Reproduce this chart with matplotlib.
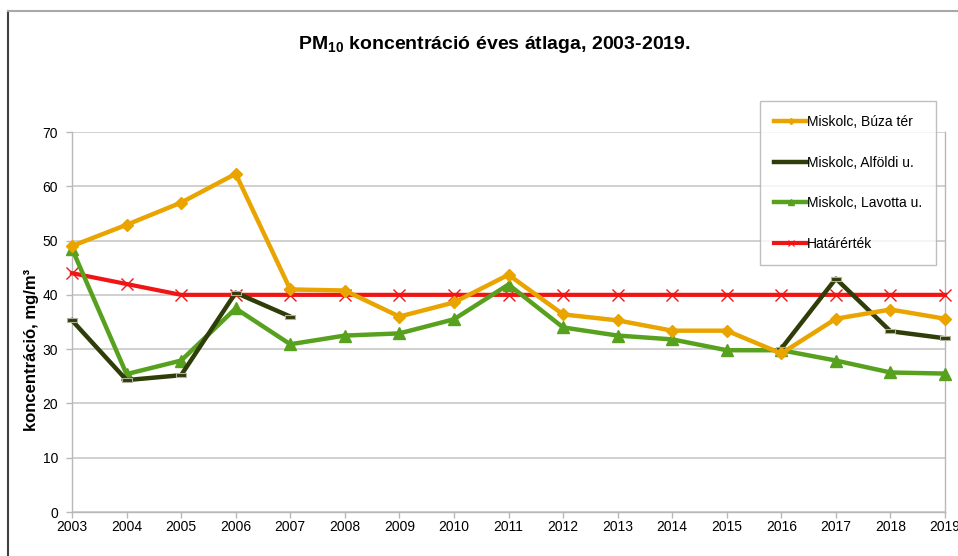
import numpy as np
import matplotlib
matplotlib.use("Agg")
import matplotlib.pyplot as plt
from matplotlib.lines import Line2D
from matplotlib.path import Path

plt.rcParams['font.family'] = ['Liberation Sans', 'DejaVu Sans']
plt.rcParams['mathtext.fontset'] = 'custom'
plt.rcParams['mathtext.rm'] = 'Liberation Sans'
plt.rcParams['mathtext.bf'] = 'Liberation Sans:bold'

years = list(range(2003, 2020))
buza = [49.0, 52.9, 57.0, 62.3, 41.0, 40.8, 36.0, 38.6, 43.7, 36.4, 35.3, 33.4, 33.4, 29.2, 35.6, 37.3, 35.6]
alfoldi = [35.3, 24.3, 25.2, 40.4, 36.0, np.nan, np.nan, np.nan, np.nan, np.nan, np.nan, np.nan, np.nan, 30.1, 43.0, 33.3, 32.0]
lavotta = [48.5, 25.4, 27.9, 37.5, 30.9, 32.5, 32.9, 35.5, 41.9, 34.0, 32.5, 31.8, 29.8, 29.8, 27.9, 25.7, 25.5]
hatar = [44, 42, 40, 40, 40, 40, 40, 40, 40, 40, 40, 40, 40, 40, 40, 40, 40]

labels = ["Miskolc, Búza tér", "Miskolc, Alföldi u.", "Miskolc, Lavotta u.", "Határérték"]
c_buza = "#e9a400"
c_alf = "#2f3d08"
c_lav = "#57a11e"
c_red = "#f01414"

W, H = 958, 556
fig = plt.figure(figsize=(W / 100, H / 100), dpi=100)
ax = fig.add_axes([72 / W, 1 - 512 / H, (945 - 72) / W, (512 - 132) / H])

# outer frame (left and top visible)
fig.add_artist(Line2D([8 / W, 8 / W], [0, 1 - 11 / H], transform=fig.transFigure, color="#404040", lw=1.5))
fig.add_artist(Line2D([8 / W, 1], [1 - 11 / H, 1 - 11 / H], transform=fig.transFigure, color="#a8a8a8", lw=1.5))

rect = Path([(-1, -0.45), (1, -0.45), (1, 0.45), (-1, 0.45), (-1, -0.45)],
            [Path.MOVETO, Path.LINETO, Path.LINETO, Path.LINETO, Path.CLOSEPOLY])

ax.plot(years, hatar, color=c_red, lw=3, marker="x", ms=9, mew=1.0, mec=c_red, zorder=3, clip_on=False)
ax.plot(years, lavotta, color=c_lav, lw=3.2, marker="^", ms=8, zorder=4, clip_on=False)
ax.plot(years, alfoldi, color=c_alf, lw=3.2, marker=rect, ms=7, mfc=c_alf, mec="#b0b0a0", mew=0.8, zorder=5, clip_on=False)
ax.plot(years, buza, color=c_buza, lw=3.2, marker="D", ms=6, zorder=6, clip_on=False)

ax.set_xlim(2003, 2019)
ax.set_ylim(0, 70)
ax.set_xticks(years)
ax.set_xticklabels([str(y) for y in years])
ax.set_yticks(range(0, 71, 10))
ax.yaxis.grid(True, color="#c8c8c8", lw=1.2)
ax.set_axisbelow(True)
ax.spines["top"].set_visible(False)
for s in ["left", "bottom", "right"]:
    ax.spines[s].set_color("#b8b8b8")
    ax.spines[s].set_linewidth(1.0)
ax.tick_params(axis="both", colors="#b8b8b8", labelcolor="black", labelsize=10, length=4, width=1)
ax.tick_params(axis="x", pad=2)
ax.tick_params(axis="y", pad=6)

ax.set_ylabel("koncentráció, mg/m³", fontsize=12, fontweight="bold")
ax.yaxis.set_label_coords(-(72 - 39) / (945 - 72), (512 - 350) / (512 - 132))

fig.text(494 / W, 1 - 45 / H, r"$\mathbf{PM_{10}}$ koncentráció éves átlaga, 2003-2019.",
         ha="center", va="center", fontsize=14, fontweight="bold")

handles = [
    Line2D([], [], color=c_buza, lw=3.2, marker="D", ms=3),
    Line2D([], [], color=c_alf, lw=3.2),
    Line2D([], [], color=c_lav, lw=3.2, marker="^", ms=4),
    Line2D([], [], color=c_red, lw=3, marker="x", ms=5, mew=0.8),
]
leg = fig.legend(handles, labels, loc="upper left", bbox_to_anchor=(760 / W, 1 - 101 / H),
                 frameon=True, fancybox=False, edgecolor="#b0b0b0", fontsize=10,
                 handlelength=2.4, handletextpad=0.0, labelspacing=1.92,
                 borderpad=1.0, borderaxespad=0)
leg.get_frame().set_linewidth(1.0)
leg.set_zorder(10)

fig.savefig("out.png", dpi=100)
